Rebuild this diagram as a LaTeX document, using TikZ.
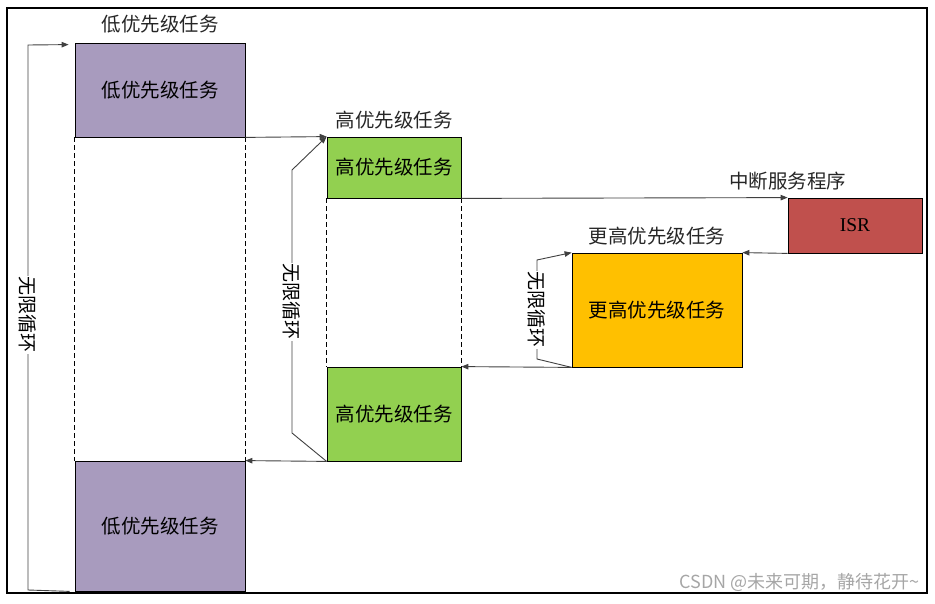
\documentclass[tikz,border=0pt]{standalone}
\usepackage{fontspec}
\setmainfont{Liberation Serif}
\newfontfamily\cjk{Noto Sans CJK SC}
\usetikzlibrary{positioning,arrows.meta}
\definecolor{lowpurple}{RGB}{168,155,190}
\definecolor{highgreen}{RGB}{146,208,80}
\definecolor{isrred}{RGB}{192,80,77}
\definecolor{topamber}{RGB}{255,192,0}

\begin{document}
\begin{tikzpicture}[x=1pt,y=-1pt,
    task/.style={draw,line width=0.8pt,inner sep=0pt,font=\cjk\fontsize{19.5}{23}\selectfont},
    tasktitle/.style={inner sep=1pt,text=black!85,font=\cjk\fontsize{19.5}{23}\selectfont},
    conn/.style={draw=black!75,line width=0.9pt,-{Triangle[length=7pt,width=5.5pt]}},
    guide/.style={dash pattern=on 5pt off 3pt,line width=0.9pt},
    looptext/.style={rotate=-90,fill=white,inner sep=1pt,font=\cjk\fontsize{19}{23}\selectfont}]
        \useasboundingbox (0,0) rectangle (935,604);
        \draw[line width=1.6pt] (7,8) rectangle (927,593);
        % task boxes
        \node[task,fill=lowpurple,minimum width=170pt,minimum height=94pt] (low1) at (160,90) {低优先级任务};
        \node[task,fill=highgreen,minimum width=134pt,minimum height=61pt] (high1) at (394,167.5) {高优先级任务};
        \node[task,fill=isrred,minimum width=134pt,minimum height=55pt,font=\fontsize{19.5}{23}\selectfont] (isr) at (855,225.5) {ISR};
        \node[task,fill=topamber,minimum width=170pt,minimum height=114pt] (top) at (657,310) {更高优先级任务};
        \node[task,fill=highgreen,minimum width=134pt,minimum height=94pt] (high2) at (394,414) {高优先级任务};
        \node[task,fill=lowpurple,minimum width=170pt,minimum height=130pt] (low2) at (160,526) {低优先级任务};
        % titles
        \node[tasktitle,above=8pt of low1] (lowtitle) {低优先级任务};
        \node[tasktitle,above=6pt of high1] (hightitle) {高优先级任务};
        \node[tasktitle,above=6pt of top] (toptitle) {更高优先级任务};
        \node[tasktitle,above=6pt of isr.north west] (isrtitle) {中断服务程序};
        % suspended parts
        \draw[guide] (low1.south west) -- (low2.north west);
        \draw[guide] (low1.south east) -- (low2.north east);
        \draw[guide] (high1.south west) -- (high2.north west);
        \draw[guide] (high1.south east) -- (high2.north east);
        % switches
        \draw[conn] (low1.south east) -- (high1.north west);
        \draw[conn] (high1.south east) -- (isr.north west);
        \draw[conn] (isr.south west) -- (top.north east);
        \draw[conn] (top.south west) -- (high2.north east);
        \draw[conn] (high2.south west) -- (low2.north east);
        % loops
        \draw[conn] ([xshift=-5pt]low2.south west) -- (28,590) -- (28,45) -- ([xshift=-6pt,yshift=-2pt]low1.north west);
        \draw[conn] (high2.south west) -- (292,433) -- (292,170) -- (high1.north west);
        \draw[conn] (top.south west) -- (537,359) -- (537,260) -- (top.north west);
        \node[looptext] (loopa) at (28,315) {无限循环};
        \node[looptext] (loopb) at (292,302) {无限循环};
        \node[looptext] (loopc) at (537,310) {无限循环};
        \node[anchor=south east,inner sep=0pt,text=black!35,font=\cjk\fontsize{18}{20}\selectfont] (mark) at (920,592) {CSDN @未来可期，静待花开\textasciitilde};
    \end{tikzpicture}
\end{document}
